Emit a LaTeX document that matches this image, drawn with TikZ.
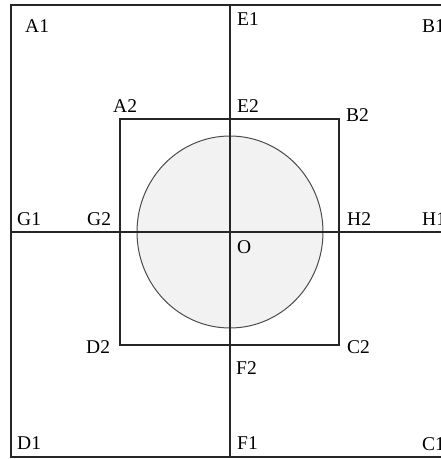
\documentclass[tikz,border=0pt]{standalone}
\usepackage{fontspec}
\setmainfont{Liberation Serif}
\begin{document}
\begin{tikzpicture}[x=1pt,y=-1pt,
  lbl/.style={anchor=base west,inner sep=0pt,font=\fontsize{19.5}{20}\selectfont},
  ln/.style={draw=black!85,line width=1.2pt}]
\useasboundingbox (0,0) rectangle (441,459);
\clip (0,0) rectangle (441,459);
% outer square corners
\coordinate (o1) at (11,5);
\coordinate (o3) at (449,457);
% inner rectangle corners
\coordinate (i1) at (120,119);
\coordinate (i3) at (339,345);
% axes ends
\coordinate (vt) at (230,5);
\coordinate (vb) at (230,457);
\coordinate (hl) at (11,232);
\coordinate (hr) at (449,232);
\coordinate (c) at (230,232);
% circle
\draw[fill=black!5,draw=black!70,line width=1pt] (c) ellipse [x radius=93,y radius=96];
\draw[ln] (o1) rectangle (o3);
\draw[ln] (i1) rectangle (i3);
\draw[ln] (vt) -- (vb);
\draw[ln] (hl) -- (hr);
% labels
\node[lbl] (A1) at (25,32) {A1};
\node[lbl] (B1) at (422,32) {B1};
\node[lbl] (E1) at (237,25) {E1};
\node[lbl] (A2) at (113,112) {A2};
\node[lbl] (E2) at (237,112) {E2};
\node[lbl] (B2) at (346,121) {B2};
\node[lbl] (G1) at (17,225) {G1};
\node[lbl] (G2) at (87,225) {G2};
\node[lbl] (H2) at (347,225) {H2};
\node[lbl] (H1) at (422,225) {H1};
\node[lbl] (O) at (237,253) {O};
\node[lbl] (D2) at (86,353) {D2};
\node[lbl] (C2) at (347,353) {C2};
\node[lbl] (F2) at (236,374) {F2};
\node[lbl] (D1) at (17,449) {D1};
\node[lbl] (F1) at (237,449) {F1};
\node[lbl] (C1) at (422,450) {C1};
\end{tikzpicture}
\end{document}
